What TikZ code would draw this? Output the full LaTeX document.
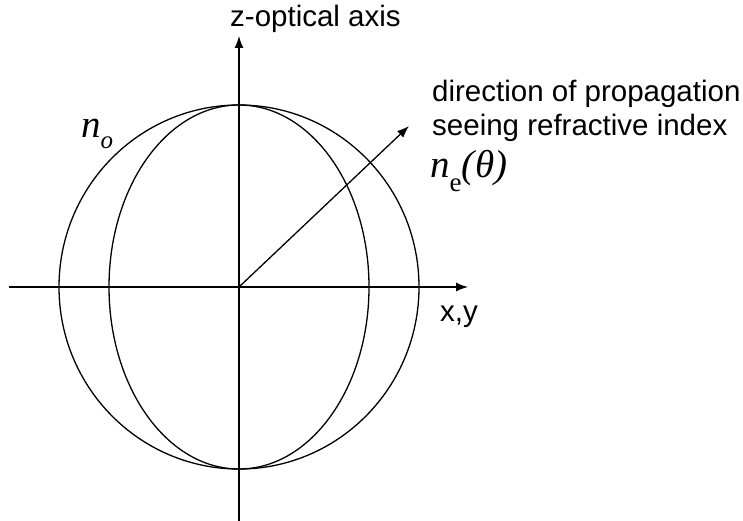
\documentclass[tikz,border=0pt]{standalone}
\usepackage{fontspec}
\setmainfont{Liberation Sans}
\newfontfamily\timesfont{Liberation Serif}
\usetikzlibrary{arrows.meta}

\begin{document}
\begin{tikzpicture}[x=1pt, y=-1pt,
  every node/.style={inner sep=0pt, font=\fontsize{29.5}{34}\selectfont},
  axis/.style={-{Latex[length=12pt,width=9pt]}, line width=1.3pt},
  curve/.style={line width=1.3pt},
  idx/.style={font=\fontsize{39}{42}\selectfont\timesfont\itshape}
]
  \useasboundingbox (0,0) rectangle (743,521);

  % origin and axis ends
  \coordinate (O) at (239,287);
  \coordinate (xl) at (9,287);
  \coordinate (xr) at (468,287);
  \coordinate (zb) at (239,521);
  \coordinate (zt) at (239,36);
  \coordinate (k) at (409,126);

  % index surfaces
  \draw[curve] (O) circle[x radius=180, y radius=182];
  \draw[curve] (O) ellipse[x radius=130, y radius=182];

  % axes
  \draw[axis] (xl) -- (xr);
  \draw[axis] (zb) -- (zt);
  \draw[axis] (O) -- (k);

  \node[anchor=base west] (zlab) at (230,27) {z-optical axis};
  \node[anchor=base west] (xlab) at (440,321) {x,y};
  \node[anchor=north west, align=left] (dir) at (432,80)
    {direction of propagation\\seeing refractive index};
  \node[idx, anchor=base west] (ne) at (430,178)
    {n\raisebox{-14pt}{\fontsize{27}{29}\selectfont\upshape e}(\kern1pt θ)};
  \node[idx, anchor=base west] (no) at (81,138)
    {n\raisebox{-11pt}{\fontsize{25}{27}\selectfont o}};
\end{tikzpicture}
\end{document}
